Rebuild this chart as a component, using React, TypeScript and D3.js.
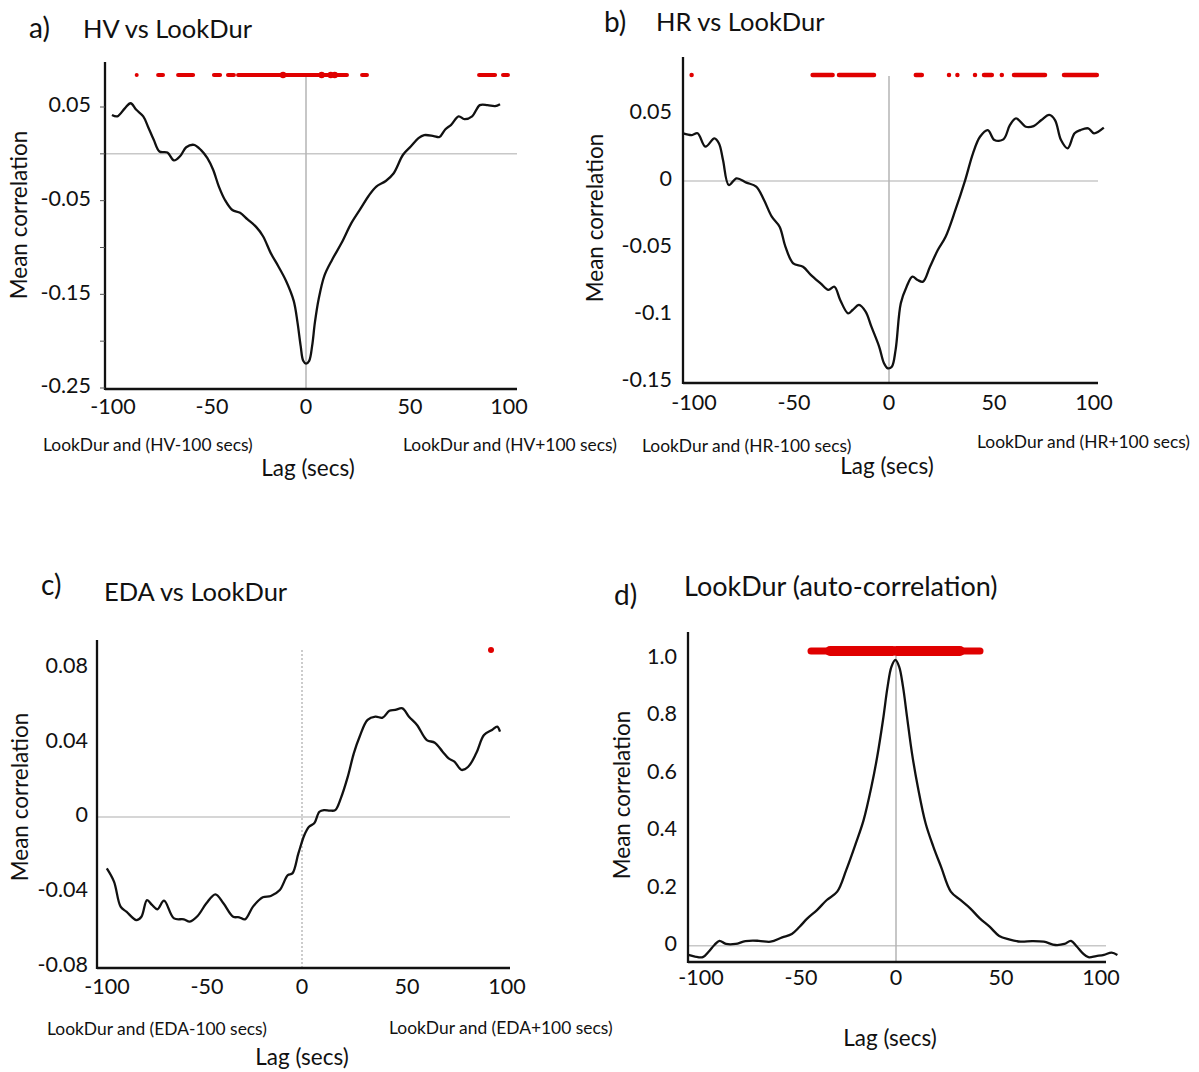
import React from 'react';
import * as d3 from 'd3';

// a) HV vs LookDur
const hvLag = [-98, -95.3, -91.5, -88.6, -85.7, -82.2, -79.8, -76.9, -74, -70, -66.7, -63.4, -60.5, -56.6, -53, -49.8, -46.9, -44, -41, -37.2, -33.3, -29.5, -25.2, -21.7, -17.8, -14, -10, -6.2, -4.3, -2.7, -1.4, 0, 1.6, 3.1, 4.5, 6.4, 9.3, 13.2, 18, 22.9, 27.7, 31.6, 35.5, 40.3, 44.2, 49, 52.9, 56.8, 59.7, 64.5, 67.4, 70.3, 73.3, 77.1, 80, 83.9, 87.8, 91.7, 95.5, 98];
const hvCorr = [0.0415, 0.04, 0.0486, 0.054, 0.047, 0.04, 0.029, 0.015, 0.0025, 0.0014, -0.007, -0.002, 0.007, 0.0096, 0.004, -0.0046, -0.017, -0.035, -0.049, -0.06, -0.063, -0.07, -0.078, -0.088, -0.106, -0.12, -0.136, -0.157, -0.18, -0.205, -0.221, -0.224, -0.221, -0.205, -0.18, -0.155, -0.13, -0.113, -0.095, -0.074, -0.058, -0.045, -0.035, -0.029, -0.021, -0.001, 0.0078, 0.0167, 0.02, 0.019, 0.018, 0.026, 0.031, 0.04, 0.037, 0.04, 0.052, 0.052, 0.051, 0.053];
const hvTicks = [0.05, 0, -0.05, -0.1, -0.15, -0.2, -0.25];
const hvTickLabels = ['0.05', '', '-0.05', '', '-0.15', '', '-0.25'];
const hvSigRuns = [[-85.5, -85.5], [-74.7, -72.2], [-64.6, -57], [-46.5, -43.4], [-39.4, -36.4], [-34.3, 20.7], [28.3, 30.8], [87.4, 95.5], [99.5, 102]];
const hvSigBlobs = [-11.6, 7.9, 12.5, 14.5];

// b) HR vs LookDur
const hrLag = [-102.9, -98.6, -95.7, -91.8, -87.3, -85, -83, -80.1, -76.2, -71.3, -66.4, -62.5, -58.6, -54.7, -51.8, -47.9, -43, -39.1, -34.2, -30.3, -27.3, -24.4, -20.5, -18.2, -15, -11.7, -8.8, -4.9, -2.5, -0.6, 1.4, 3.3, 5.9, 8.8, 11.7, 14.3, 17, 20.5, 24.4, 28.3, 33.2, 38.1, 42, 45.5, 49.4, 52.7, 57.2, 60.5, 63.5, 68.4, 72.3, 76.2, 80.1, 83, 86, 89.3, 92.8, 95.7, 99.6, 102.5, 107.4];
const hrCorr = [0.0356, 0.0343, 0.0356, 0.0256, 0.0318, 0.028, 0.0157, -0.003, 0.002, -0.0012, -0.0042, -0.0142, -0.0266, -0.0341, -0.049, -0.0614, -0.064, -0.07, -0.0764, -0.0813, -0.0789, -0.0888, -0.0987, -0.0963, -0.0925, -0.0975, -0.1087, -0.1237, -0.136, -0.1398, -0.1386, -0.126, -0.0913, -0.0789, -0.0714, -0.0739, -0.0751, -0.064, -0.0515, -0.0416, -0.0216, 0.0007, 0.0207, 0.033, 0.038, 0.0306, 0.0311, 0.0418, 0.0468, 0.0405, 0.041, 0.0455, 0.0493, 0.0455, 0.0306, 0.0244, 0.0356, 0.038, 0.0393, 0.0356, 0.0398];
const hrTicks = [0.05, 0, -0.05, -0.1, -0.15];
const hrTickLabels = ['0.05', '0', '-0.05', '-0.1', '-0.15'];
const hrSigRuns = [[-98.7, -98.7], [-38.2, -28.2], [-25, -7.5], [13.4, 16.4], [30, 30], [34.2, 34.2], [43, 43], [47.5, 51.4], [56.4, 56.4], [62.5, 78], [87.5, 103.9]];

// c) EDA vs LookDur
const edaLag = [-97.6, -94, -90.7, -87.8, -82.8, -80.3, -77.5, -75, -72.3, -69, -64, -59.1, -56.1, -52.2, -47.8, -43.3, -39.3, -34.4, -31.4, -28.5, -24.5, -19.6, -15.6, -11.1, -7.1, -4.8, -1.8, 1.2, 3.5, 6.1, 8.7, 11, 14, 16.6, 19.4, 22.9, 25.9, 28.8, 32.8, 36.7, 40.3, 43.7, 46.6, 50.2, 53.5, 57.5, 62.4, 66.4, 70.3, 73.3, 76.2, 79.8, 83.1, 87.1, 91, 95, 97.6, 99];
const edaCorr = [-0.0275, -0.0346, -0.048, -0.0507, -0.0552, -0.0534, -0.0445, -0.0471, -0.0494, -0.0448, -0.0543, -0.0548, -0.056, -0.053, -0.0462, -0.0414, -0.0462, -0.0534, -0.0537, -0.0548, -0.048, -0.043, -0.0423, -0.0391, -0.0311, -0.0302, -0.0195, -0.0096, -0.0052, -0.0034, 0.0028, 0.0037, 0.0034, 0.0037, 0.01, 0.0216, 0.0341, 0.043, 0.052, 0.0537, 0.0532, 0.0569, 0.0573, 0.0582, 0.0537, 0.0493, 0.0412, 0.0398, 0.035, 0.0314, 0.0296, 0.0252, 0.0269, 0.0341, 0.0439, 0.0466, 0.0484, 0.0457];
const edaTicks = [0.08, 0.04, 0, -0.04, -0.08];
const edaTickLabels = ['0.08', '0.04', '0', '-0.04', '-0.08'];
const edaSigLag = [94.5];
const edaSigCorr = [0.0894];

// d) LookDur auto-correlation
const autoLag = [-103.8, -100.5, -96.6, -93.7, -90.8, -88.3, -85, -80.2, -75.3, -68.6, -62.7, -56.9, -52.1, -48.2, -44.3, -39.5, -34.6, -29.4, -24.9, -20.1, -16.2, -12.3, -9.4, -6.5, -4.2, -2.3, -0.3, 1.6, 3.5, 5.5, 8, 10.9, 14.8, 18.7, 22.5, 27.4, 32.2, 37.1, 41.9, 46.8, 51.6, 56.5, 62.3, 68.1, 73.9, 79.7, 84.2, 87.5, 90.4, 93.3, 96.2, 100.1, 104, 107.8, 110.7];
const autoCorr = [-0.032, -0.038, -0.04, -0.021, 0.0024, 0.017, 0.006, 0.006, 0.016, 0.017, 0.014, 0.029, 0.041, 0.066, 0.095, 0.124, 0.159, 0.188, 0.263, 0.356, 0.437, 0.553, 0.657, 0.785, 0.901, 0.97, 0.994, 0.97, 0.901, 0.797, 0.669, 0.553, 0.426, 0.344, 0.275, 0.188, 0.159, 0.13, 0.095, 0.066, 0.034, 0.022, 0.014, 0.016, 0.014, 0.0024, 0.006, 0.017, -0.003, -0.026, -0.04, -0.036, -0.032, -0.024, -0.032];
const autoTicks = [1.0, 0.8, 0.6, 0.4, 0.2, 0];
const autoTickLabels = ['1.0', '0.8', '0.6', '0.4', '0.2', '0'];
const autoSigRunsThin = [[-42.5, -33], [32, 42]];
const autoSigRunsThick = [[-33, -1.7], [0.3, 32]];

const lagTicks = [-100, -50, 0, 50, 100];

const FONT = 'Lato, "Open Sans", sans-serif';

type PanelProps = {
  letter: string;
  title: string;
  titleSize?: number;
  letterPos: [number, number];
  titlePos: [number, number];
  axisX: number;
  axisTop: number;
  axisBottom: number;
  axisEnd: number;
  x: d3.ScaleLinear<number, number>;
  y: d3.ScaleLinear<number, number>;
  lags: number[];
  corr: number[];
  ticks: number[];
  tickLabels: string[];
  labelRight: number;
  xLabelY: number;
  yTitlePos: [number, number];
  lagTitleY: number;
  lagTitleX: number;
  notes?: { text: string; x: number; y: number }[];
  zeroLineTop: number;
  zeroLineDash?: string;
  minorTicks?: boolean;
  children?: React.ReactNode;
};

const Panel = (p: PanelProps) => {
  const line = d3.line<number>()
    .x((_, i) => p.x(p.lags[i]))
    .y(d => p.y(d))
    .curve(d3.curveCatmullRom.alpha(0.5));
  const x0 = p.x(0);
  return (
    <g fontFamily={FONT} fill="#111">
      <text x={p.letterPos[0]} y={p.letterPos[1]} fontSize={28}>{p.letter}</text>
      <text x={p.titlePos[0]} y={p.titlePos[1]} fontSize={p.titleSize || 25.5}>{p.title}</text>

      {/* zero gridline and zero-lag line */}
      <line x1={p.axisX} x2={p.axisEnd} y1={p.y(0)} y2={p.y(0)} stroke="#c8c8c8" strokeWidth={1.5} />
      <line x1={x0} x2={x0} y1={p.zeroLineTop} y2={p.axisBottom}
        stroke={p.zeroLineDash ? '#999' : '#b4b4b4'} strokeWidth={p.zeroLineDash ? 1 : 1.5}
        strokeDasharray={p.zeroLineDash} />

      {p.children}

      <path d={line(p.corr) || ''} fill="none" stroke="#111" strokeWidth={2.3} strokeLinejoin="round" />

      {/* axes */}
      <line x1={p.axisX} x2={p.axisX} y1={p.axisTop} y2={p.axisBottom + 1} stroke="#111" strokeWidth={2.3} />
      <line x1={p.axisX} x2={p.axisEnd} y1={p.axisBottom} y2={p.axisBottom} stroke="#111" strokeWidth={2.3} />

      {p.ticks.map((t, i) => (
        <g key={i}>
          {p.minorTicks && (
            <line x1={p.axisX - 5} x2={p.axisX} y1={p.y(t)} y2={p.y(t)} stroke="#555" strokeWidth={1} />
          )}
          <text x={p.labelRight} y={p.y(t)} fontSize={21.5} textAnchor="end" dominantBaseline="middle">
            {p.tickLabels[i]}
          </text>
        </g>
      ))}
      {lagTicks.map(t => (
        <text key={t} x={p.x(t)} dx={t === 0 ? 0 : 5} y={p.xLabelY} fontSize={21.5} textAnchor="middle" dominantBaseline="middle">
          {t}
        </text>
      ))}

      <text transform={`translate(${p.yTitlePos[0]},${p.yTitlePos[1]}) rotate(-90)`} fontSize={22.5}
        textAnchor="middle" dominantBaseline="middle">Mean correlation</text>
      {(p.notes || []).map((n, i) => (
        <text key={i} x={n.x} y={n.y} fontSize={17.4} dominantBaseline="middle">{n.text}</text>
      ))}
      <text x={p.lagTitleX} y={p.lagTitleY} fontSize={22.5} textAnchor="middle" dominantBaseline="middle">Lag (secs)</text>
    </g>
  );
};

const RED = '#e00000';

const SigRuns = ({ runs, x, y, width }: { runs: number[][]; x: d3.ScaleLinear<number, number>; y: number; width: number }) => (
  <g>
    {runs.map((r, i) => (
      <line key={i} x1={x(r[0])} x2={x(r[1])} y1={y} y2={y} stroke={RED} strokeWidth={width} strokeLinecap="round" />
    ))}
  </g>
);

export default function App() {
  const xA = d3.scaleLinear().domain([-100, 100]).range([108, 504]);
  const yA = d3.scaleLinear().domain([-0.25, 0.05]).range([388, 107]);

  const xB = d3.scaleLinear().domain([-100, 100]).range([689, 1089]);
  const yB = d3.scaleLinear().domain([-0.15, 0.05]).range([382, 114]);

  const xC = d3.scaleLinear().domain([-100, 100]).range([102, 502]);
  const yC = d3.scaleLinear().domain([-0.08, 0.08]).range([966.4, 667.6]);

  const xD = d3.scaleLinear().domain([-100, 100]).range([696, 1096]);
  const yD = d3.scaleLinear().domain([0, 1]).range([945.7, 658.2]);

  return (
    <div style={{ position: 'absolute', left: 0, top: 0 }}>
      <svg width={1199} height={1072} viewBox="0 0 1199 1072" style={{ display: 'block', background: '#fff' }}>
        <rect width={1199} height={1072} fill="#fff" />

        <Panel letter="a)" title="HV vs LookDur" letterPos={[29, 38]} titlePos={[83, 38]}
          axisX={105} axisTop={62} axisBottom={389} axisEnd={517}
          x={xA} y={yA} lags={hvLag} corr={hvCorr} ticks={hvTicks} tickLabels={hvTickLabels}
          labelRight={91} xLabelY={409} yTitlePos={[21, 215]} lagTitleX={308} lagTitleY={470}
          zeroLineTop={76} minorTicks
          notes={[{ text: 'LookDur and (HV-100 secs)', x: 43, y: 447 }, { text: 'LookDur and (HV+100 secs)', x: 403, y: 447 }]}>
          <SigRuns runs={hvSigRuns} x={xA} y={75} width={4} />
          {hvSigBlobs.map((b, i) => <circle key={i} cx={xA(b)} cy={75} r={3.2} fill={RED} />)}
        </Panel>

        <Panel letter="b)" title="HR vs LookDur" letterPos={[604, 32]} titlePos={[656, 31]}
          axisX={683} axisTop={57} axisBottom={383} axisEnd={1098}
          x={xB} y={yB} lags={hrLag} corr={hrCorr} ticks={hrTicks} tickLabels={hrTickLabels}
          labelRight={672} xLabelY={405} yTitlePos={[597, 218]} lagTitleX={887} lagTitleY={468}
          zeroLineTop={76}
          notes={[{ text: 'LookDur and (HR-100 secs)', x: 642, y: 448 }, { text: 'LookDur and (HR+100 secs)', x: 977, y: 444 }]}>
          <SigRuns runs={hrSigRuns} x={xB} y={75} width={4.5} />
        </Panel>

        <Panel letter="c)" title="EDA vs LookDur" letterPos={[41, 595]} titlePos={[104, 601]}
          axisX={97} axisTop={640} axisBottom={968} axisEnd={510}
          x={xC} y={yC} lags={edaLag} corr={edaCorr} ticks={edaTicks} tickLabels={edaTickLabels}
          labelRight={88} xLabelY={989} yTitlePos={[22, 797]} lagTitleX={302} lagTitleY={1059}
          zeroLineTop={650} zeroLineDash="2,2"
          notes={[{ text: 'LookDur and (EDA-100 secs)', x: 47, y: 1031 }, { text: 'LookDur and (EDA+100 secs)', x: 389, y: 1030 }]}>
          {edaSigLag.map((l, i) => <circle key={i} cx={xC(l)} cy={yC(edaSigCorr[i])} r={3} fill={RED} />)}
        </Panel>

        <Panel letter="d)" title="LookDur (auto-correlation)" titleSize={27} letterPos={[614, 605]} titlePos={[684, 596]}
          axisX={688} axisTop={632} axisBottom={962} axisEnd={1106}
          x={xD} y={yD} lags={autoLag} corr={autoCorr} ticks={autoTicks} tickLabels={autoTickLabels}
          labelRight={677} xLabelY={980} yTitlePos={[624, 795]} lagTitleX={890} lagTitleY={1040}
          zeroLineTop={648}>
          <SigRuns runs={autoSigRunsThin} x={xD} y={651} width={7} />
          <SigRuns runs={autoSigRunsThick} x={xD} y={651} width={10} />
        </Panel>
      </svg>
    </div>
  );
}
